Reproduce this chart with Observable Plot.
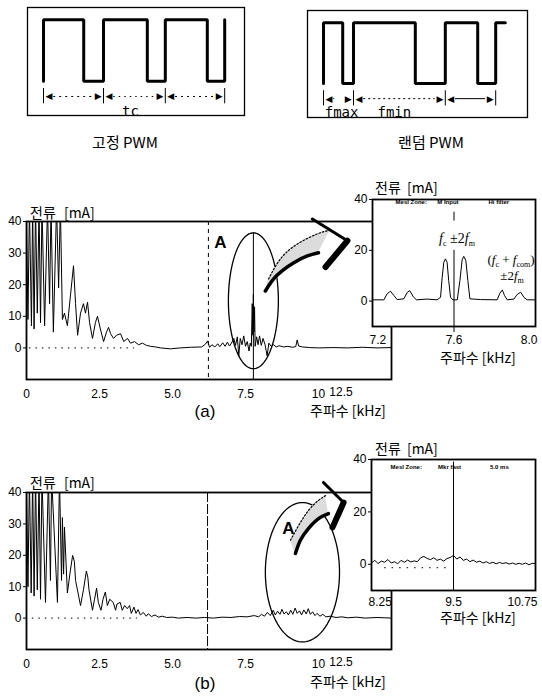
<!DOCTYPE html>
<html><head><meta charset="utf-8">
<script src="https://cdn.jsdelivr.net/npm/d3@7"></script>
<script src="https://cdn.jsdelivr.net/npm/@observablehq/plot@0.6"></script>
<style>
body{margin:0;background:#fff;}
#root{position:relative;width:542px;height:698px;overflow:hidden;background:#fff;}
</style></head><body><div id="root"></div>
<script>
// ---------------- DATA ----------------
// PWM waveforms (time in carrier periods), edges alternate rise/fall
const fixedEdges = [0, 0.67, 1.0, 1.73, 2.03, 2.73, 3.02];
const fixedEnd = 3.02;
const fixedMarks = [0, 1.0, 2.03, 3.02];
const randomEdges = [0, 0.32, 0.5, 1.53, 2.03, 2.57, 2.87];
const randomEnd = 3.03;
const randomMarks = [0, 0.5, 2.03, 2.87];

// Main spectrum (a): fixed PWM  [kHz, mA]
const spectrumA = [
[0.00,42],[0.05,9],[0.10,45],[0.17,7],[0.21,45],[0.26,6],[0.31,45],[0.37,11],[0.43,45],[0.48,8],
[0.53,45],[0.62,7],[0.72,45],[0.79,14],[0.84,45],[0.92,5],[1.03,45],[1.10,19],[1.16,45],[1.23,9],
[1.30,11],[1.40,7],[1.51,17],[1.61,26],[1.68,14],[1.75,4],[1.85,11],[1.95,14],[2.02,11],[2.09,14.5],
[2.16,8],[2.26,3],[2.36,8],[2.43,10],[2.53,6],[2.64,2],[2.74,5],[2.81,6.5],[2.88,4.5],[2.98,3],
[3.08,4],[3.22,4.5],[3.33,2],[3.46,3],[3.56,1.5],[3.70,2],[3.84,1],[3.97,1.5],[4.11,0.8],[4.25,0.5],
[4.42,0.3],[4.59,0],[4.93,-0.3],[5.27,0],[5.62,0.2],[6.00,0.3],[6.13,1.2],[6.20,2.2],[6.27,0.2],
[6.35,1],[6.45,0.3],[6.55,1.3],[6.62,0.4],[6.72,1.6],[6.80,0.5],[6.88,1.8],[6.95,0.6],[7.02,1.5],
[7.10,3],[7.16,0.8],[7.22,3.5],[7.27,-2.5],[7.32,3],[7.38,1],[7.44,3.8],[7.50,0.5],[7.56,2],[7.62,-1],
[7.66,1.5],[7.70,0.5],[7.73,14],[7.75,4],[7.77,17],[7.79,5],[7.81,13],[7.83,0.5],[7.88,3.5],[7.93,1],
[7.98,3.8],[8.04,0.8],[8.10,3],[8.17,1],[8.24,-2.5],[8.30,1.5],[8.38,0.5],[8.46,1],[8.55,0.3],[8.65,0.7],
[8.80,0.3],[8.95,0.5],[9.10,0.2],[9.22,0.4],[9.27,2.5],[9.32,0.6],[9.45,0.3],[9.70,0.1],[10.0,0],
[10.5,0.1],[11.0,0],[11.5,0.2],[12.0,0],[12.5,0.1]
];
// Main spectrum (b): random PWM
const spectrumB = [
[0.00,42],[0.05,10],[0.10,45],[0.16,8],[0.21,45],[0.26,7],[0.31,45],[0.37,9],[0.43,45],[0.48,6],
[0.53,45],[0.65,5],[0.75,45],[0.82,12],[0.86,45],[1.06,5],[1.13,45],[1.20,12],[1.23,32],[1.27,14],
[1.30,29],[1.40,8],[1.50,15],[1.58,20],[1.64,18],[1.68,12],[1.85,4],[1.95,9],[2.05,15],[2.10,13],
[2.14,9],[2.26,2.5],[2.33,6],[2.40,9.5],[2.46,5],[2.55,2.5],[2.62,6],[2.70,8.3],[2.77,4],[2.85,6],
[2.97,5],[3.05,2.5],[3.10,4.5],[3.21,5],[3.28,2.5],[3.36,4],[3.45,3],[3.53,4],[3.59,1.5],[3.68,3.5],
[3.75,1.5],[3.82,2.7],[3.90,1],[4.00,1.8],[4.10,0.6],[4.17,1.4],[4.28,0.5],[4.40,1],[4.52,0.3],[4.65,0.6],
[4.80,0.2],[5.00,0.3],[5.20,0],[5.50,0.2],[5.80,0],[6.10,0.2],[6.40,0],[6.70,0.3],[7.00,0.2],[7.30,0.5],
[7.55,0.4],[7.80,0.8],[7.95,0.4],[8.05,1.2],[8.15,0.6],[8.25,1.8],[8.35,0.8],[8.45,2.5],[8.52,1],[8.60,2.2],
[8.68,1.2],[8.75,2.8],[8.82,1.3],[8.90,2],[8.97,1],[9.05,2.5],[9.12,1.2],[9.20,3.2],[9.27,1.5],[9.35,2.3],
[9.42,1],[9.50,2.6],[9.58,1.3],[9.65,3],[9.72,1.2],[9.80,2],[9.88,0.8],[9.95,1.5],[10.05,0.6],[10.15,1.2],
[10.25,0.4],[10.40,0.6],[10.60,0.2],[10.80,0.4],[11.0,0.1],[11.3,0.3],[11.6,0],[12.0,0.2],[12.5,0]
];
// Inset (a): 7.2–8.0 kHz
const insetA = [
[7.200,0.5],[7.256,0.5],[7.272,2.9],[7.288,3.9],[7.305,2.2],[7.321,0.6],[7.354,0.9],[7.370,3.4],[7.383,4.1],
[7.400,1.7],[7.416,0.5],[7.468,0.8],[7.517,0.5],[7.534,1.5],[7.542,9.4],[7.550,15.3],[7.558,16.6],[7.566,15.3],
[7.574,8.1],[7.583,1.5],[7.594,0.5],[7.616,0.5],[7.629,8.1],[7.640,16.3],[7.648,17.6],[7.658,16.0],[7.668,8.1],
[7.678,0.9],[7.730,0.6],[7.812,0.5],[7.825,3.1],[7.837,4.4],[7.848,2.2],[7.861,0.5],[7.894,0.8],[7.910,2.6],
[7.927,3.5],[7.943,1.5],[7.959,0.5],[8.000,0.5]
];
// Inset (b): 8.25–10.75 kHz
const insetB = [
[8.25,0.5],[8.30,1.5],[8.35,0.3],[8.40,1.2],[8.45,0.8],[8.50,1.8],[8.55,0.5],[8.60,1.0],[8.65,0.2],[8.70,1.5],
[8.75,0.8],[8.80,1.6],[8.85,0.9],[8.90,1.3],[8.95,1.0],[9.00,2.5],[9.05,3.0],[9.10,2.2],[9.15,1.8],[9.20,2.5],
[9.25,1.5],[9.30,2.0],[9.35,1.2],[9.40,2.2],[9.45,2.6],[9.50,3.4],[9.55,2.0],[9.60,2.8],[9.65,1.5],[9.70,2.0],
[9.75,1.0],[9.80,1.6],[9.85,0.8],[9.90,1.2],[9.95,0.5],[10.00,1.0],[10.05,0.3],[10.10,0.8],[10.15,0.2],[10.20,0.7],
[10.25,0.3],[10.30,0.6],[10.35,0.1],[10.40,0.5],[10.45,0.0],[10.50,0.4],[10.55,0.0],[10.60,0.5],[10.65,-0.2],[10.70,0.4],[10.75,0.2]
];

const xTicksMain = [0, 2.5, 5, 7.5, 10];
const xTickLabelsMain = ["0", "2.5", "5.0", "7.5", "10"];
const yTicksMain = [0, 10, 20, 30, 40];
const xTicksInsetA = [7.2, 7.6, 8.0];
const xTickLabelsInsetA = ["7.2", "7.6", "8.0"];
const xTicksInsetB = [8.25, 9.5, 10.75];
const xTickLabelsInsetB = ["8.25", "9.5", "10.75"];
const yTicksInset = [0, 20, 40];
const markerA = 7.6, markerB = 9.5;
const insetTopTextA = ["Mesl Zone:", "M Input", "Hi filter"];
const insetTopTextB = ["Mesl Zone:", "Mkr fast", "5.0 ms"];

// ---------------- HELPERS ----------------
const KR = '"Noto Sans CJK KR","Noto Sans",sans-serif';
const LAT = '"Liberation Sans",Arial,sans-serif';
const root = document.getElementById("root");
function place(el, left, top) {
  el.style.position = "absolute"; el.style.left = left + "px"; el.style.top = top + "px";
  root.appendChild(el);
}
function label(html, x, y, o = {}) {
  const d = document.createElement("div");
  d.innerHTML = html;
  const tx = o.anchor === "start" ? "0" : o.anchor === "end" ? "-100%" : "-50%";
  d.style.cssText = `position:absolute;left:${x}px;top:${y}px;white-space:nowrap;line-height:1;color:#000;` +
    `font-family:${o.family || KR};font-size:${o.size || 14}px;font-weight:${o.weight || 400};` +
    `transform:translate(${tx},-50%);${o.css || ""}`;
  root.appendChild(d);
}
const baseStyle = {background: "transparent", overflow: "visible", fontFamily: LAT, fontSize: "12px", color: "black"};

// ---------------- PWM DIAGRAMS ----------------
function pwm(edges, end, marks, dashes, texts, w, h) {
  const pts = [[0, 0]];
  edges.forEach((t, i) => { const lv = i % 2 === 0 ? 1 : 0; pts.push([t, 1 - lv], [t, lv]); });
  pts.push([end, edges.length % 2 === 1 ? 1 : 0]);
  const segs = marks.slice(1).map((b, i) => ({a: marks[i], b, dash: dashes[i]}));
  const rowY = -0.25;
  return Plot.plot({
    width: w, height: h, margin: 0,
    x: {domain: [-0.267, (w - 16) / 60], axis: null},
    y: {domain: [-0.56, 1.2], axis: null},
    style: baseStyle,
    marks: [
      Plot.frame({stroke: "black", strokeWidth: 1.3}),
      Plot.line(pts, {x: d => d[0], y: d => d[1], stroke: "black", strokeWidth: 3, strokeLinejoin: "miter"}),
      Plot.ruleX(marks, {x: d => d, y1: -0.12, y2: -0.37, stroke: "black", strokeWidth: 1}),
      ...segs.map(s => Plot.ruleY([rowY], {x1: s.a + 0.17, x2: s.b - 0.17, stroke: "black", strokeWidth: 1, strokeDasharray: s.dash})),
      Plot.text(segs, {x: d => d.a + 0.09, y: rowY, text: () => "◀", fontSize: 9, fontFamily: "DejaVu Sans"}),
      Plot.text(segs, {x: d => d.b - 0.09, y: rowY, text: () => "▶", fontSize: 9, fontFamily: "DejaVu Sans"}),
      ...texts.map(t => Plot.text([t], {x: d => d.t, y: d => d.y, text: d => d.s, fontSize: 14, textAnchor: t.anchor || "middle", fontFamily: "DejaVu Sans Mono"}))
    ]
  });
}
place(pwm(fixedEdges, fixedEnd, fixedMarks, ["2,4", "1.5,4", "2,4"], [{t: 1.45, y: -0.49, s: "tc"}], 217, 108), 27, 7);
place(pwm(randomEdges, randomEnd, randomMarks, ["1,9", "2,3", "none"], [{t: 0.02, y: -0.48, s: "fmax", anchor: "start"}, {t: 0.9, y: -0.48, s: "fmin", anchor: "start"}], 220, 107), 307, 10);
label("고정 PWM", 125, 141, {size: 15});
label("랜덤 PWM", 431, 141, {size: 15});

// ---------------- MAIN CHARTS ----------------
function ellipse(cx, cy, rx, ry) {
  return d3.range(0, 361, 4).map(a => [cx + rx * Math.cos(a * Math.PI / 180), cy + ry * Math.sin(a * Math.PI / 180)]);
}
function mainChart(o) {
  const X = d => d[0], Y = d => d[1];
  const band = o.upper.map((u, i) => ({x1: u[0], y1: u[1], x2: o.lower[i][0], y2: o.lower[i][1]}));
  return Plot.plot({
    width: 542, height: 200, marginLeft: 26, marginRight: 151, marginTop: o.mt, marginBottom: o.mb,
    x: {domain: [0, 12.5], axis: null},
    y: {domain: [-10, 40], ticks: yTicksMain, tickSize: 3, tickPadding: 2, label: null},
    style: baseStyle,
    marks: [
      Plot.ruleY([0], {x1: o.base[0], x2: o.base[1], stroke: "black", strokeWidth: 1, strokeDasharray: "1.5,5"}),
      Plot.ruleX([o.vline], {stroke: "black", strokeWidth: 1, strokeDasharray: o.vdash}),
      Plot.line(o.data, {x: X, y: Y, stroke: "black", strokeWidth: 1, clip: true}),
      o.marker ? Plot.ruleX([o.marker], {y1: o.markerTop, y2: -10, stroke: "black", strokeWidth: 1}) : null,
      Plot.line(ellipse(...o.ell), {x: X, y: Y, stroke: "black", strokeWidth: 1.3}),
      Plot.area(band, {x1: "x1", y1: "y1", x2: "x2", y2: "y2", fill: "#dcdcdc", curve: "natural"}),
      Plot.line(o.upper, {x: X, y: Y, stroke: "black", strokeWidth: 1.2, strokeDasharray: "1.5,2", curve: "natural"}),
      Plot.line(o.lower, {x: X, y: Y, stroke: "black", strokeWidth: 3.5, curve: "natural"}),
      Plot.line(o.chev, {x: X, y: Y, stroke: "black", strokeWidth: 3, strokeLinejoin: "miter"}),
      Plot.line(o.chev.slice(1), {x: X, y: Y, stroke: "black", strokeWidth: 6}),
      Plot.text([o.A], {x: X, y: Y, text: () => "A", fontSize: 17, fontWeight: "bold", fontFamily: LAT}),
      Plot.frame({stroke: "black", strokeWidth: 1.8}),
      Plot.text(xTicksMain, {x: d => d, text: (d, i) => xTickLabelsMain[i], frameAnchor: "bottom", dy: 18, fontSize: 12, fontFamily: LAT})
    ].filter(Boolean)
  });
}
place(mainChart({
  data: spectrumA, mt: 21, mb: 21, base: [0.1, 3.7], vline: 6.23, vdash: "4,4",
  marker: 7.77, markerTop: 36.4, ell: [7.77, 14.9, 0.856, 21.5],
  upper: [[8.29, 21.8], [8.70, 28.2], [9.28, 32.9], [9.97, 36.1], [10.41, 37.3]],
  lower: [[8.18, 18.0], [8.56, 22.8], [9.14, 26.9], [9.62, 29.1], [10.0, 30.1]],
  chev: [[9.79, 40.8], [10.99, 33.9], [10.24, 25.6]],
  A: [6.64, 33.2]
}), 0, 200);
place(mainChart({
  data: spectrumB, mt: 22, mb: 21, base: [0.2, 3.8], vline: 6.2, vdash: "10,2",
  marker: null, ell: [9.45, 14.6, 1.27, 22.2],
  upper: [[9.04, 24.8], [9.32, 29.5], [9.66, 34.3], [10.0, 37.5], [10.24, 39.0]],
  lower: [[9.21, 20.6], [9.38, 24.8], [9.66, 28.6], [10.0, 31.7], [10.34, 33.3]],
  chev: [[10.17, 43.2], [10.86, 36.8], [10.48, 28.9]],
  A: [8.97, 28.6]
}), 0, 470);

label("전류 [mA]", 30, 212, {anchor: "start", size: 14, css: "word-spacing:5px"});
label("전류 [mA]", 30, 482, {anchor: "start", size: 14, css: "word-spacing:5px"});
label("12.5", 341, 392, {family: LAT, size: 12});
label("12.5", 341, 662, {family: LAT, size: 12});
label("주파수 [kHz]", 310, 410, {anchor: "start", size: 14});
label("주파수 [kHz]", 310, 681, {anchor: "start", size: 14});
label("(a)", 205, 411, {family: LAT, size: 17});
label("(b)", 205, 683, {family: LAT, size: 17});

// ---------------- INSETS ----------------
function inset(o) {
  const X = d => d[0], Y = d => d[1];
  const n = o.ticks.length;
  return Plot.plot({
    width: 202, height: o.h, marginLeft: o.ml, marginRight: 7, marginTop: 14, marginBottom: o.mb,
    x: {domain: o.domain, axis: null},
    y: {domain: [-10, 40], ticks: yTicksInset, tickSize: 3, tickPadding: 2, label: null},
    style: baseStyle,
    marks: [
      Plot.frame({fill: "white", stroke: null}),
      o.dash ? Plot.ruleY([o.dash[0]], {x1: o.dash[1], x2: o.dash[2], stroke: "black", strokeDasharray: "1.5,6"}) : null,
      Plot.line(o.data, {x: X, y: Y, stroke: "black", strokeWidth: 1, clip: true}),
      Plot.ruleX(o.markerSegs, {x: () => o.marker, y1: d => d[0], y2: d => d[1], stroke: "black", strokeWidth: 1}),
      Plot.frame({stroke: "black", strokeWidth: 1.8}),
      Plot.text(o.topText, {x: (d, i) => o.topX[i], y: o.topY, text: d => d, fontSize: 6, fontWeight: "bold", fontFamily: LAT}),
      Plot.text([o.ticks[0]], {x: d => d, text: () => o.labels[0], frameAnchor: "bottom", dy: o.tdy, dx: -3, textAnchor: "start", fontSize: 12, fontFamily: LAT}),
      Plot.text([o.ticks[1]], {x: d => d, text: () => o.labels[1], frameAnchor: "bottom", dy: o.tdy, fontSize: 12, fontFamily: LAT}),
      Plot.text([o.ticks[n - 1]], {x: d => d, text: () => o.labels[n - 1], frameAnchor: "bottom", dy: o.tdy, dx: 2, textAnchor: "end", fontSize: 12, fontFamily: LAT})
    ].filter(Boolean)
  });
}
place(inset({
  h: 170, ml: 32, mb: 29, domain: [7.2, 8.0], data: insetA, marker: markerA,
  markerSegs: [[-12.4, 20], [31.5, 35]], ticks: xTicksInsetA, labels: xTickLabelsInsetA, tdy: 17,
  topText: insetTopTextA, topX: [7.39, 7.57, 7.82], topY: 38.8, dash: null
}), 340, 185);
place(inset({
  h: 175, ml: 31, mb: 30, domain: [8.25, 10.75], data: insetB, marker: markerB,
  markerSegs: [[-10, 39]], ticks: xTicksInsetB, labels: xTickLabelsInsetB, tdy: 15,
  topText: insetTopTextB, topX: [8.78, 9.44, 10.2], topY: 37, dash: [-1.3, 8.45, 9.4]
}), 340, 445);

label("전류 [mA]", 375, 187, {anchor: "start", size: 14, css: "word-spacing:3px"});
label("전류 [mA]", 375, 448, {anchor: "start", size: 14, css: "word-spacing:3px"});
label("주파수 [kHz]", 440, 357, {anchor: "start", size: 14});
label("주파수 [kHz]", 440, 617, {anchor: "start", size: 14});
const SER = '"Liberation Serif","DejaVu Serif",serif';
label('<i>f</i><sub style="font-size:8px">c</sub> ±2<i>f</i><sub style="font-size:8px">m</sub>', 457, 240, {family: SER, size: 14});
label('(<i>f</i><sub style="font-size:8px">c</sub> + <i>f</i><sub style="font-size:8px">com</sub>)', 511, 261, {family: SER, size: 13});
label('±2<i>f</i><sub style="font-size:8px">m</sub>', 512, 277, {family: SER, size: 13});
</script>
</body></html>
